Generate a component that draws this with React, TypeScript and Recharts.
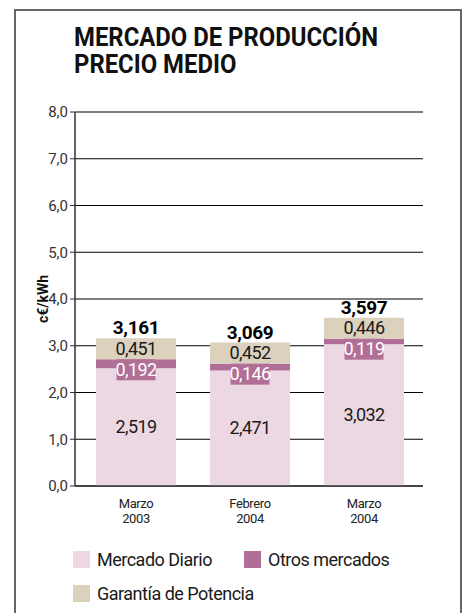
import React from "react";
import { BarChart, Bar, XAxis, YAxis, CartesianGrid, LabelList, Label } from "recharts";

const categories = [["Marzo", "2003"], ["Febrero", "2004"], ["Marzo", "2004"]];
const mercadoDiario = [2.519, 2.471, 3.032];
const otrosMercados = [0.192, 0.146, 0.119];
const garantia = [0.451, 0.452, 0.446];
const totals = [3.161, 3.069, 3.597];
const yTicks = [0, 1, 2, 3, 4, 5, 6, 7, 8];

const FONT = "Roboto, 'Liberation Sans', sans-serif";
const C_MD = "#ecd8e2";
const C_OM = "#b16f97";
const C_GP = "#dbd1bd";

const data = categories.map((c, i) => ({
  name: c.join(" "),
  md: mercadoDiario[i],
  om: otrosMercados[i],
  gp: garantia[i],
  total: totals[i],
}));

const fmt = (v: number, d = 3) => v.toFixed(d).replace(".", ",");

const CenterLabel = (props: any) => {
  const { x, y, width, height, value } = props;
  return (
    <text x={x + width / 2} y={y + height / 2} dy={6} textAnchor="middle" fontFamily={FONT} fontSize={18} fill="#1a1a1a" letterSpacing={-0.6}>
      {fmt(value)}
    </text>
  );
};

const OtrosLabel = (props: any) => {
  const { x, y, width, value } = props;
  const bw = 39;
  const bh = 21;
  const cx = x + width / 2;
  return (
    <g>
      <rect x={cx - bw / 2} y={y} width={bw} height={bh} fill={C_OM} />
      <text x={cx} y={y + bh / 2} dy={6} textAnchor="middle" fontFamily={FONT} fontSize={18} fill="#ffffff" letterSpacing={-0.6}>
        {fmt(value)}
      </text>
    </g>
  );
};

const TotalLabel = (props: any) => {
  const { x, y, width, index } = props;
  return (
    <text x={x + width / 2} y={y - 4} textAnchor="middle" fontFamily={FONT} fontSize={19} fontWeight="bold" fill="#000" letterSpacing={-0.4}>
      {fmt(totals[index])}
    </text>
  );
};

const XTick = (props: any) => {
  const { x, y, index } = props;
  const c = categories[index] || ["", ""];
  return (
    <g>
      <text x={x} y={y + 14} textAnchor="middle" fontFamily={FONT} fontSize={13} fill="#222" letterSpacing={-0.4}>{c[0]}</text>
      <text x={x} y={y + 29} textAnchor="middle" fontFamily={FONT} fontSize={13} fill="#222" letterSpacing={-0.4}>{c[1]}</text>
    </g>
  );
};

const legendItems = [
  { label: "Mercado Diario", color: C_MD, left: 73, top: 551 },
  { label: "Otros mercados", color: C_OM, left: 244, top: 551 },
  { label: "Garantía de Potencia", color: C_GP, left: 73, top: 585 },
];

export default function App() {
  return (
    <div style={{ position: "absolute", left: 0, top: 0, width: 464, height: 613, background: "#fff", overflow: "hidden" }}>
      <div style={{ position: "absolute", left: 14, top: 9, width: 444, height: 620, borderTop: "2px solid #666", borderLeft: "2px solid #666", borderRight: "2px solid #666" }} />
      <div style={{ position: "absolute", left: 74, top: 24, fontFamily: FONT, fontWeight: "bold", fontSize: 25, lineHeight: "27px", color: "#111", transform: "scaleX(0.955)", transformOrigin: "left top", whiteSpace: "nowrap" }}>
        MERCADO DE PRODUCCIÓN<br />PRECIO MEDIO
      </div>
      <div style={{ position: "absolute", left: 0, top: 0 }}>
        <BarChart width={464} height={613} data={data} margin={{ top: 112, right: 41, left: 15, bottom: 97 }} barSize={80}>
          <CartesianGrid vertical={false} stroke="#000" strokeWidth={1.2} />
          <XAxis dataKey="name" axisLine={{ stroke: "#333", strokeWidth: 1.5 }} tickLine={false} tick={<XTick />} height={30} padding={{ left: 4, right: 2 }} interval={0} />
          <YAxis
            domain={[0, 8]}
            ticks={yTicks}
            tickFormatter={(v: number) => fmt(v, 1)}
            width={60}
            tickSize={5}
            tickLine={{ stroke: "#333" }}
            axisLine={{ stroke: "#333", strokeWidth: 1.5 }}
            tick={{ fontFamily: FONT, fontSize: 15, fill: "#333" }}
            interval={0}
          >
            <Label value="c€/kWh" angle={-90} position="insideLeft" offset={28} style={{ fontFamily: FONT, fontSize: 14, fontWeight: "bold", fill: "#111", textAnchor: "middle" }} />
          </YAxis>
          <YAxis yAxisId="r" orientation="right" domain={[0, 8]} width={0} tick={false} tickLine={false} axisLine={{ stroke: "#000", strokeWidth: 1.5 }} />
          <Bar dataKey="md" stackId="a" fill={C_MD} isAnimationActive={false} name="Mercado Diario">
            <LabelList dataKey="md" content={<CenterLabel />} />
          </Bar>
          <Bar dataKey="om" stackId="a" fill={C_OM} isAnimationActive={false} name="Otros mercados">
            <LabelList dataKey="om" content={<OtrosLabel />} />
          </Bar>
          <Bar dataKey="gp" stackId="a" fill={C_GP} isAnimationActive={false} name="Garantía de Potencia">
            <LabelList dataKey="gp" content={<CenterLabel />} />
            <LabelList dataKey="total" content={<TotalLabel />} />
          </Bar>
        </BarChart>
      </div>
      {legendItems.map((it) => (
        <div key={it.label} style={{ position: "absolute", left: it.left, top: it.top, display: "flex", alignItems: "center", height: 17 }}>
          <div style={{ width: 17, height: 17, background: it.color, marginRight: 7, flexShrink: 0 }} />
          <span style={{ fontFamily: FONT, fontSize: 18, color: "#1a1a1a", whiteSpace: "nowrap", letterSpacing: -0.5 }}>{it.label}</span>
        </div>
      ))}
    </div>
  );
}
